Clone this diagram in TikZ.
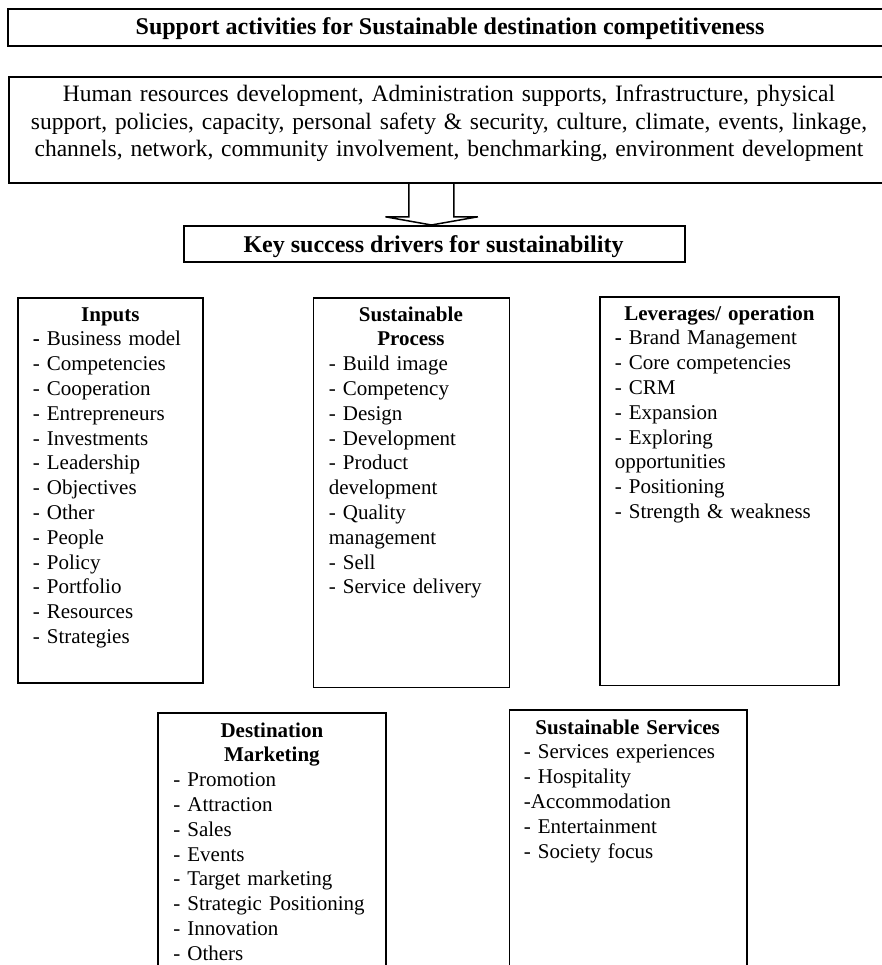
\documentclass[tikz,border=0pt]{standalone}
\usepackage{fontspec}
\setmainfont{Liberation Serif}
\usetikzlibrary{calc}
\begin{document}
\begin{tikzpicture}[x=1pt,y=-1pt,line width=1.8pt,
  frame/.style={draw,inner sep=0pt,anchor=north west},
  bigtext/.style={inner sep=0pt,anchor=base,align=center,font=\fontsize{23.5}{27.5}\selectfont},
  titletext/.style={inner sep=0pt,anchor=base,align=center,font=\fontsize{24}{27.5}\selectfont\bfseries},
  boxtext/.style={inner sep=0pt,anchor=base west,align=left,font=\fontsize{21}{24.8}\selectfont},
  blockarrow/.style={line width=1.5pt,line join=miter}]
\useasboundingbox (0,0) rectangle (882,965);
\clip (0,0) rectangle (882,965);
% top boxes
\node[frame,minimum width=886pt,minimum height=37pt] (supp) at (7,8) {};
\node[titletext] (suppT) at (450,34.5) {Support activities for Sustainable destination competitiveness};
\node[frame,minimum width=884pt,minimum height=106pt] (main) at (8,76) {};
\node[bigtext,text width=870pt] (mainT) at (449,102) {Human resources development, Administration supports, Infrastructure, physical\\
support, policies, capacity, personal safety \& security, culture, climate, events, linkage,\\
channels, network, community involvement, benchmarking, environment development};
\node[frame,minimum width=501pt,minimum height=36pt] (key) at (183,225) {};
\node[titletext] (keyT) at (433.5,252.5) {Key success drivers for sustainability};
% hollow block arrow
\coordinate (atop) at ($(main.south -| key.north)+(-3,0)$);
\coordinate (atip) at ($(key.north)+(-3,0)$);
\draw[blockarrow] ($(atop)+(-22.5,0)$) -- ++(0,33) -- ++(-23.5,0) -- (atip) -- ($(atop)+(46.5,33)$) -- ++(-24,0) -- ($(atop)+(22.5,0)$);
% row of driver boxes
\node[frame,minimum width=185pt,minimum height=385pt] (inputs) at (17,297) {};
\node[boxtext,text width=155pt] (inputsT) at (32,321) {\makebox[\linewidth][c]{\bfseries Inputs}\\
\textbf{-} Business model\\
- Competencies\\
- Cooperation\\
- Entrepreneurs\\
- Investments\\
- Leadership\\
- Objectives\\
- Other\\
- People\\
- Policy\\
- Portfolio\\
- Resources\\
- Strategies};
\node[frame,minimum width=196pt,minimum height=389.5pt] (process) at (312.5,297) {};
\node[boxtext,text width=164pt] (processT) at (328,321) {\makebox[\linewidth][c]{\bfseries Sustainable}\\
\makebox[\linewidth][c]{\bfseries Process}\\
- Build image\\
- Competency\\
- Design\\
- Development\\
- Product\\
development\\
- Quality\\
management\\
- Sell\\
- Service delivery};
\node[frame,minimum width=239pt,minimum height=388.5pt] (lever) at (599,296) {};
\node[boxtext,text width=209pt] (leverT) at (614,320) {\makebox[\linewidth][c]{\bfseries Leverages/ operation}\\
\textbf{-} Brand Management\\
- Core competencies\\
- CRM\\
- Expansion\\
- Exploring\\
opportunities\\
- Positioning\\
- Strength \& weakness};
% bottom row
\node[frame,minimum width=228pt,minimum height=300pt] (market) at (157,712) {};
\node[boxtext,text width=197pt] (marketT) at (172.5,737) {\makebox[\linewidth][c]{\bfseries Destination}\\
\makebox[\linewidth][c]{\bfseries Marketing}\\
- Promotion\\
- Attraction\\
- Sales\\
- Events\\
- Target marketing\\
- Strategic Positioning\\
- Innovation\\
- Others};
\node[frame,minimum width=237.5pt,minimum height=300pt] (services) at (508.5,709) {};
\node[boxtext,text width=207.5pt] (servicesT) at (523,734) {\makebox[\linewidth][c]{\bfseries Sustainable Services}\\
- Services experiences\\
- Hospitality\\
-Accommodation\\
- Entertainment\\
- Society focus};
\end{tikzpicture}
\end{document}
